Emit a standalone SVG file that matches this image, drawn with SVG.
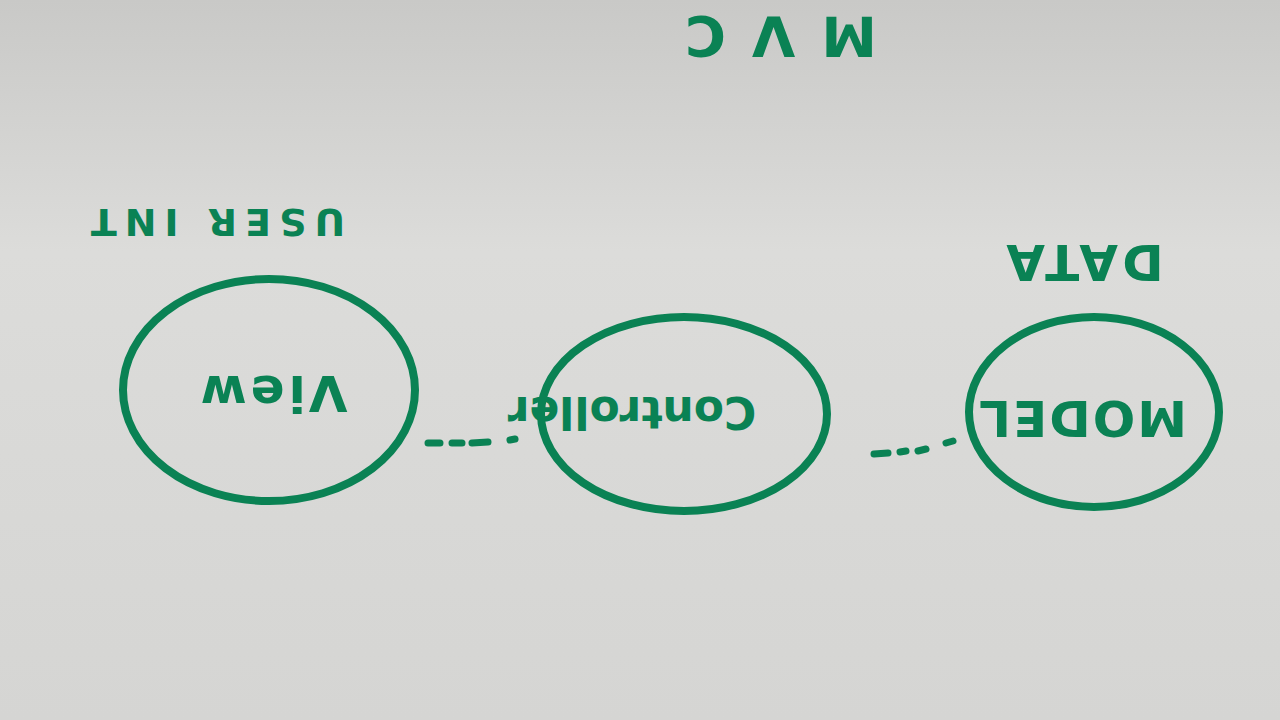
<svg xmlns="http://www.w3.org/2000/svg" width="1280" height="720" viewBox="0 0 1280 720">
<defs>
<linearGradient id="paper" x1="0" y1="0" x2="0" y2="1">
<stop offset="0" stop-color="#c9c9c7"/>
<stop offset="0.35" stop-color="#dcdcda"/>
<stop offset="1" stop-color="#d5d5d3"/>
</linearGradient>
<style>
.ring{fill:none;stroke:#0a8254;stroke-width:8;stroke-linecap:round}
.lbl{fill:#0a8254;font-family:"DejaVu Sans",sans-serif;font-weight:bold;text-anchor:middle;dominant-baseline:central}
.dash{fill:none;stroke:#0a8254;stroke-width:7;stroke-linecap:round}
</style>
</defs>
<rect width="1280" height="720" fill="url(#paper)"/>
<g id="title"><text class="lbl" transform="translate(768,36) rotate(180)" font-size="56" letter-spacing="26">MVC</text></g>
<g id="user-int"><text class="lbl" transform="translate(214,222) rotate(180)" font-size="38" letter-spacing="8">USER INT</text></g>
<g id="data"><text class="lbl" transform="translate(1083,262) rotate(180)" font-size="50" letter-spacing="4">DATA</text></g>
<g id="view">
<ellipse class="ring" cx="269" cy="390" rx="146" ry="111"/>
<text class="lbl" transform="translate(272,393) rotate(180)" font-size="50" letter-spacing="4">View</text>
</g>
<g id="controller">
<ellipse class="ring" cx="684" cy="414" rx="143" ry="97"/>
<text class="lbl" transform="translate(632,412) rotate(180)" font-size="44">Controller</text>
</g>
<g id="model">
<ellipse class="ring" cx="1094" cy="412" rx="125" ry="95"/>
<text class="lbl" transform="translate(1082,418) rotate(180)" font-size="50" letter-spacing="2">MODEL</text>
</g>
<g id="connectors">
<path class="dash" d="M428 443 L440 443 M452 443 L462 443 M472 443 L488 442 M510 440 L515 439"/>
<path class="dash" d="M874 454 L888 453 M900 452 L906 451 M918 451 L926 449 M946 443 L953 441"/>
</g>
</svg>
